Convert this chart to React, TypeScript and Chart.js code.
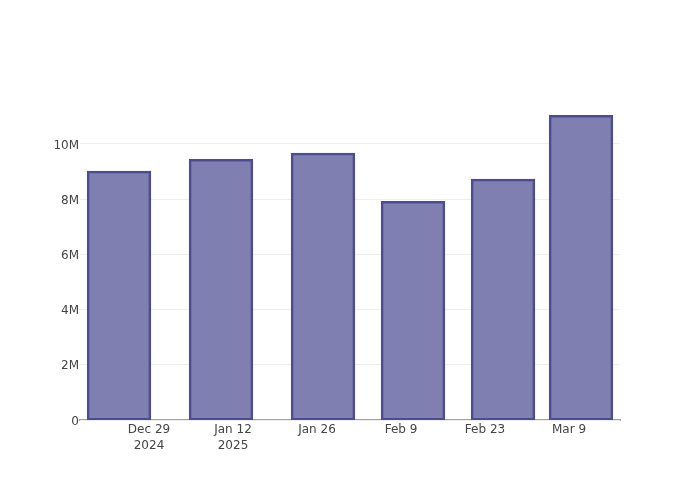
import React, { useEffect, useRef } from "react";
import { Chart, registerables } from "chart.js";

Chart.register(...registerables);

const barDates = ["2024-12-24", "2025-01-10", "2025-01-27", "2025-02-11", "2025-02-26", "2025-03-11"];
const barValues = [8990000, 9420000, 9640000, 7900000, 8700000, 11010000];
const xTickDates = ["2024-12-29", "2025-01-12", "2025-01-26", "2025-02-09", "2025-02-23", "2025-03-09"];
const yTickValues = [0, 2000000, 4000000, 6000000, 8000000, 10000000];
const xRangeDates = ["2024-12-17T12:00:00Z", "2025-03-17T12:00:00Z"];
const yMax = 11590000;

const MONTHS = ["Jan", "Feb", "Mar", "Apr", "May", "Jun", "Jul", "Aug", "Sep", "Oct", "Nov", "Dec"];
const DAY = 86400000;
const toDay = (s: string) => {
  const iso = s.length === 10 ? s + "T00:00:00Z" : s;
  return Date.parse(iso) / DAY;
};

export default function App() {
  const ref = useRef<HTMLCanvasElement | null>(null);
  useEffect(() => {
    if (!ref.current) return;
    const tickDays = xTickDates.map(toDay);
    const font = { family: "'DejaVu Sans', sans-serif", size: 12 };
    const chart = new Chart(ref.current, {
      type: "bar",
      data: {
        datasets: [
          {
            data: barDates.map((d, i) => ({ x: toDay(d), y: barValues[i] })),
            backgroundColor: "rgb(127,127,177)",
            borderColor: "rgb(76,76,146)",
            borderWidth: 2.5,
            borderSkipped: false,
            inflateAmount: 1,
            categoryPercentage: 0.8,
            barPercentage: 1,
          },
        ],
      },
      options: {
        animation: false,
        responsive: false,
        devicePixelRatio: 1,
        layout: { padding: { top: 100, right: 80, left: 0, bottom: 0 } },
        plugins: { legend: { display: false }, tooltip: { enabled: false } },
        scales: {
          x: {
            type: "linear",
            offset: false,
            min: toDay(xRangeDates[0]),
            max: toDay(xRangeDates[1]),
            afterBuildTicks: (s: any) => {
              s.ticks = tickDays.map((v) => ({ value: v }));
            },
            afterFit: (s: any) => {
              s.height = 80;
            },
            grid: { display: false, drawTicks: false, offset: false },
            border: { display: true, color: "#a0a0a0", width: 2, z: -1 },
            ticks: {
              color: "#444",
              font: { ...font, lineHeight: 1.35 },
              padding: 2,
              maxRotation: 0,
              autoSkip: false,
              callback: (v: any, i: number) => {
                const d = new Date(Number(v) * DAY);
                const label = MONTHS[d.getUTCMonth()] + " " + d.getUTCDate();
                let showYear = i === 0;
                if (i > 0) {
                  const p = new Date(tickDays[i - 1] * DAY);
                  showYear = p.getUTCFullYear() !== d.getUTCFullYear();
                }
                return showYear ? [label, String(d.getUTCFullYear())] : label;
              },
            },
          },
          y: {
            min: 0,
            max: yMax,
            afterBuildTicks: (s: any) => {
              s.ticks = yTickValues.map((v) => ({ value: v }));
            },
            afterFit: (s: any) => {
              s.width = 80;
            },
            grid: { color: "#eeeeee", lineWidth: 1, drawTicks: false },
            border: { display: false },
            ticks: {
              color: "#444",
              font,
              padding: 1,
              labelOffset: 1.5,
              callback: (v: any) => (Number(v) === 0 ? "0" : Number(v) / 1e6 + "M"),
            },
          },
        },
      },
    } as any);
    return () => chart.destroy();
  }, []);
  return (
    <div style={{ position: "fixed", left: 0, top: 0, width: 700, height: 500, background: "#fff" }}>
      <canvas ref={ref} width={700} height={500} style={{ width: 700, height: 500 }} />
    </div>
  );
}
